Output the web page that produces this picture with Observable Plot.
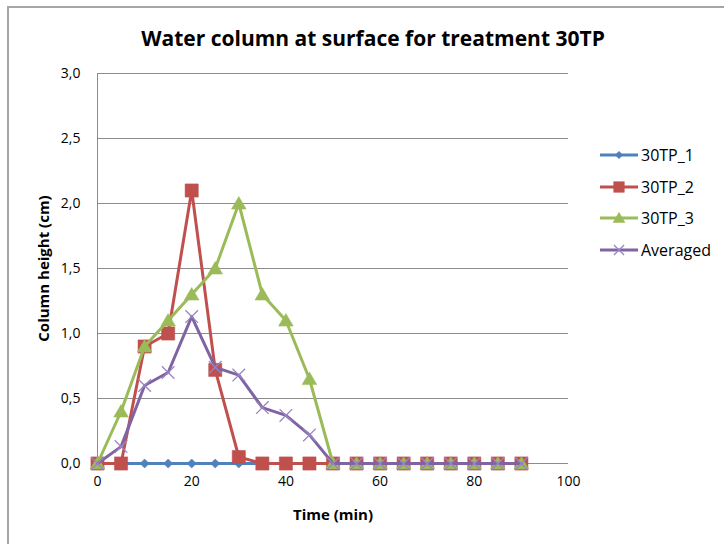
<!DOCTYPE html>
<html><head><meta charset="utf-8">
<script src="https://cdn.jsdelivr.net/npm/d3@7"></script>
<script src="https://cdn.jsdelivr.net/npm/@observablehq/plot@0.6"></script>
<style>
body{margin:0;background:#fff;font-family:"Open Sans",sans-serif;}
#wrap{position:relative;width:724px;height:544px;overflow:hidden;background:#fff;}
#frame{position:absolute;left:7px;top:6px;width:800px;height:600px;border:2px solid #a6a6a6;box-sizing:border-box;}
#title{position:absolute;left:0;top:22px;width:746px;text-align:center;font-size:21px;line-height:32px;font-weight:bold;color:#000;}
#chart{position:absolute;left:0;top:55px;}
#legend{position:absolute;left:598px;top:139px;font-size:16px;color:#000;}
.item{display:flex;align-items:center;height:31.7px;}
.item svg{display:block;margin-right:1px;}
</style></head>
<body>
<div id="wrap">
  <div id="frame"></div>
  <div id="title">Water column at surface for treatment 30TP</div>
  <div id="chart"></div>
  <div id="legend"></div>
</div>
<script>
// ---- data ----
const time = [0, 5, 10, 15, 20, 25, 30, 35, 40, 45, 50, 55, 60, 65, 70, 75, 80, 85, 90];
const tp1  = [0, 0, 0, 0, 0, 0, 0, 0, 0, 0, 0, 0, 0, 0, 0, 0, 0, 0, 0];
const tp2  = [0, 0, 0.9, 1.0, 2.1, 0.72, 0.05, 0, 0, 0, 0, 0, 0, 0, 0, 0, 0, 0, 0];
const tp3  = [0, 0.4, 0.9, 1.1, 1.3, 1.5, 2.0, 1.3, 1.1, 0.65, 0, 0, 0, 0, 0, 0, 0, 0, 0];
const avg  = [0, 0.13, 0.6, 0.7, 1.13, 0.74, 0.68, 0.43, 0.37, 0.22, 0, 0, 0, 0, 0, 0, 0, 0, 0];
const seriesNames = ["30TP_1", "30TP_2", "30TP_3", "Averaged"];
const seriesValues = [tp1, tp2, tp3, avg];
const xTicks = [0, 20, 40, 60, 80, 100];
const yTicks = [0, 0.5, 1.0, 1.5, 2.0, 2.5, 3.0];
const xLabel = "Time (min)";
const yLabel = "Column height (cm)";

// ---- styles ----
const colors = ["#4F81BD", "#C0504D", "#9BBB59", "#8064A2"];
const rad = (size) => Math.sqrt(size / Math.PI);
const diamond = {draw(c, size){ const r = rad(size); c.moveTo(0,-r); c.lineTo(r,0); c.lineTo(0,r); c.lineTo(-r,0); c.closePath(); }};
const square = {draw(c, size){ const r = rad(size); c.rect(-r,-r,2*r,2*r); }};
const triangle = {draw(c, size){ const r = rad(size); c.moveTo(0,-r*1.0); c.lineTo(r*1.05,r*0.8); c.lineTo(-r*1.05,r*0.8); c.closePath(); }};
const times = {draw(c, size){ const r = rad(size); c.moveTo(-r,-r); c.lineTo(r,r); c.moveTo(-r,r); c.lineTo(r,-r); }};
const symbols = [diamond, square, triangle, times];
const radii = [4.6, 6.6, 7, 6.3];
const filled = [true, true, true, false];

const rows = seriesNames.map((name, i) => time.map((t, j) => ({time: t, value: seriesValues[i][j], series: name})));

const fmt = d => d.toFixed(1).replace(".", ",");
const gridColor = "#8c8c8c";

const marks = [
  Plot.gridY(yTicks, {stroke: gridColor, strokeOpacity: 1, strokeWidth: 1}),
  Plot.ruleX([0], {stroke: gridColor, strokeWidth: 1}),
  Plot.axisY(yTicks, {tickSize: 0, tickPadding: 17, tickFormat: fmt, label: null, fontSize: 14}),
  Plot.axisX(xTicks, {tickSize: 0, tickPadding: 13, label: null, fontSize: 14}),
  Plot.text([yLabel], {frameAnchor: "left", dx: -53, rotate: -90, textAnchor: "middle", lineAnchor: "middle", fontWeight: "bold", fontSize: 15}),
  Plot.text([xLabel], {frameAnchor: "bottom", dy: 52, textAnchor: "middle", lineAnchor: "middle", fontWeight: "bold", fontSize: 15})
];
seriesNames.forEach((name, i) => {
  marks.push(Plot.line(rows[i], {x: "time", y: "value", stroke: colors[i], strokeWidth: 3, strokeLinejoin: "round"}));
  marks.push(Plot.dot(rows[i], {
    x: "time", y: "value", symbol: symbols[i], r: radii[i],
    fill: filled[i] ? colors[i] : "none",
    stroke: filled[i] ? colors[i] : "#9a84c4",
    strokeWidth: filled[i] ? 0.5 : 1.3
  }));
});

const chart = Plot.plot({
  width: 724, height: 489,
  marginLeft: 97, marginRight: 156, marginTop: 18, marginBottom: 81,
  style: {fontFamily: '"Open Sans", sans-serif', fontSize: "14px", color: "#000", background: "transparent", overflow: "visible"},
  x: {domain: [0, 100]},
  y: {domain: [0, 3]},
  marks
});
document.getElementById("chart").appendChild(chart);

// ---- legend ----
const legend = d3.select("#legend");
seriesNames.forEach((name, i) => {
  const item = legend.append("div").attr("class", "item");
  const svg = item.append("svg").attr("width", 42).attr("height", 16);
  svg.append("line").attr("x1", 2).attr("x2", 40).attr("y1", 8).attr("y2", 8).attr("stroke", colors[i]).attr("stroke-width", 3);
  svg.append("path").attr("transform", "translate(21,8)")
    .attr("d", d3.symbol(symbols[i], Math.PI * radii[i] * radii[i] * 0.65)())
    .attr("fill", filled[i] ? colors[i] : "none")
    .attr("stroke", filled[i] ? colors[i] : "#9a84c4")
    .attr("stroke-width", filled[i] ? 0.5 : 1.3);
  item.append("span").text(name);
});
</script>
</body></html>
